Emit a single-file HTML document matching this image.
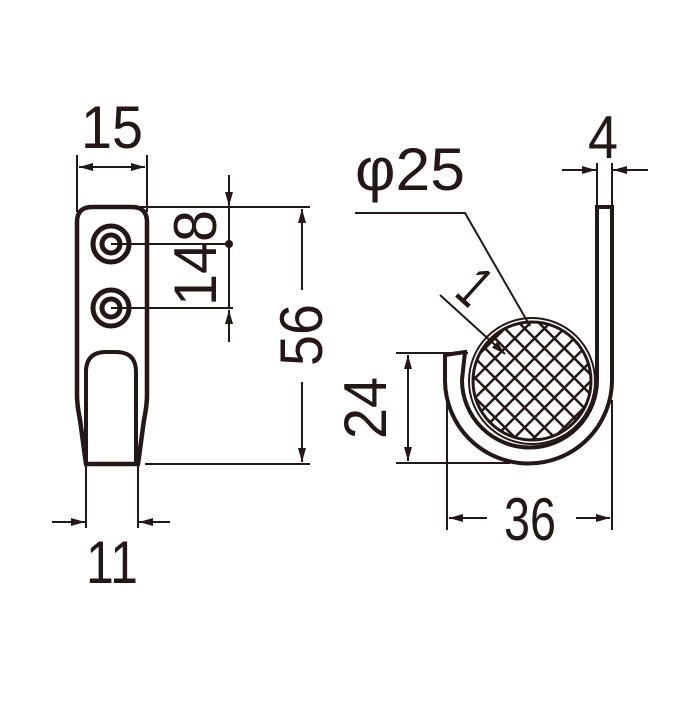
<!DOCTYPE html>
<html><head><meta charset="utf-8"><style>html,body{margin:0;padding:0;background:#fff}</style></head>
<body>
<svg width="700" height="700" viewBox="0 0 700 700" xmlns="http://www.w3.org/2000/svg">
<defs>
<marker id="b" viewBox="0 0 14 8" refX="14" refY="4" markerWidth="14" markerHeight="8" markerUnits="userSpaceOnUse" orient="auto-start-reverse">
<path d="M0,0 L14,4 L0,8 z" fill="#231815"/></marker>
<pattern id="h" width="14" height="14" patternUnits="userSpaceOnUse" patternTransform="rotate(45)">
<rect width="14" height="14" fill="#fff"/>
<rect x="0" y="0" width="2.5" height="14" fill="#231815"/>
<rect x="0" y="0" width="14" height="2.5" fill="#231815"/>
</pattern>
<clipPath id="c"><circle cx="532" cy="381" r="58"/></clipPath>
</defs>
<g fill="none" stroke="#231815" stroke-width="2">
<path d="M86,464 L80,420 Q77,405 77,395 L77,222 Q77,207 92,207 L132,207 Q147,207 147,222 L147,395 Q147,405 144,420 L138,464 Z" stroke-width="4.5"/>
<path d="M86,464 L86,372 Q86,352 106,352 L116,352 Q136,352 136,372 L136,464" stroke-width="4"/>
<line x1="86" y1="464" x2="138" y2="464" stroke-width="4"/>
<circle cx="111" cy="244" r="18" stroke-width="5"/><circle cx="111" cy="244" r="9" stroke-width="5"/>
<circle cx="111" cy="308" r="18" stroke-width="5"/><circle cx="111" cy="308" r="9" stroke-width="5"/>
<line x1="77" y1="155" x2="77" y2="212"/><line x1="147" y1="155" x2="147" y2="212"/>
<line x1="79" y1="167" x2="145" y2="167" marker-start="url(#b)" marker-end="url(#b)"/>
<line x1="111" y1="244" x2="229" y2="244"/><line x1="111" y1="308" x2="233" y2="308"/>
<line x1="229" y1="175" x2="229" y2="206" marker-end="url(#b)"/>
<line x1="229" y1="207" x2="229" y2="308"/>
<line x1="229" y1="342" x2="229" y2="310" marker-end="url(#b)"/>
<line x1="140" y1="207" x2="310" y2="207"/><line x1="145" y1="464" x2="310" y2="464"/>
<line x1="302" y1="290" x2="302" y2="209" marker-end="url(#b)"/>
<line x1="302" y1="382" x2="302" y2="462" marker-end="url(#b)"/>
<line x1="86" y1="464" x2="86" y2="528"/><line x1="138" y1="464" x2="138" y2="528"/>
<line x1="52" y1="522" x2="85" y2="522" marker-end="url(#b)"/>
<line x1="170" y1="522" x2="139" y2="522" marker-end="url(#b)"/>
<path d="M597,207 L612,207 L612,380 A83,83 0 0 1 445,380 L445,355 L465,352 L462,380 A67,67 0 0 0 597,380 Z" stroke-width="4"/>
<circle cx="532" cy="381" r="58" fill="url(#h)" stroke="none" clip-path="url(#c)"/>
<circle cx="532" cy="381" r="59" stroke-width="3"/>
<circle cx="532" cy="381" r="63" stroke-width="2"/>
<polyline points="355,213 465,213 530,326"/>
<line x1="440" y1="295" x2="505" y2="354" marker-end="url(#b)"/>
<line x1="597" y1="163" x2="597" y2="207"/><line x1="612" y1="163" x2="612" y2="207"/>
<line x1="562" y1="170" x2="596" y2="170" marker-end="url(#b)"/>
<line x1="648" y1="170" x2="613" y2="170" marker-end="url(#b)"/>
<line x1="396" y1="353" x2="468" y2="353"/><line x1="396" y1="463" x2="510" y2="463"/>
<line x1="408" y1="355" x2="408" y2="461" marker-start="url(#b)" marker-end="url(#b)"/>
<line x1="447" y1="393" x2="447" y2="530"/><line x1="612" y1="400" x2="612" y2="530"/>
<line x1="487" y1="518" x2="449" y2="518" marker-end="url(#b)"/>
<line x1="576" y1="518" x2="610" y2="518" marker-end="url(#b)"/>
</g>
<circle cx="229" cy="244" r="4" fill="#231815"/>
<g fill="#231815" font-family="Liberation Sans, sans-serif" font-size="60" text-anchor="middle">
<text x="112" y="148" textLength="62" lengthAdjust="spacingAndGlyphs">15</text>
<text x="112" y="583" textLength="52" lengthAdjust="spacingAndGlyphs">11</text>
<text x="530" y="540" textLength="52" lengthAdjust="spacingAndGlyphs">36</text>
<text x="603" y="158" textLength="30" lengthAdjust="spacingAndGlyphs">4</text>
<text x="410" y="190" textLength="110" lengthAdjust="spacingAndGlyphs">φ25</text>
<text transform="translate(216,258) rotate(-90)" textLength="96" lengthAdjust="spacingAndGlyphs">148</text>
<text transform="translate(322,335) rotate(-90)" textLength="62" lengthAdjust="spacingAndGlyphs">56</text>
<text transform="translate(386,408) rotate(-90)" textLength="62" lengthAdjust="spacingAndGlyphs">24</text>
<text transform="translate(461,302) rotate(42)" textLength="22" lengthAdjust="spacingAndGlyphs">1</text>
</g>
</svg>
</body></html>
